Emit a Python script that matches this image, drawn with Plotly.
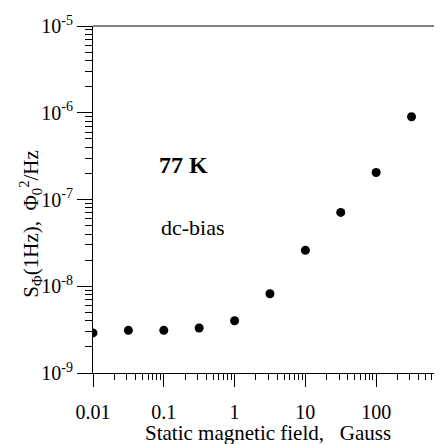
import plotly.graph_objects as go

# field (Gauss) and flux noise at 1 Hz (Phi0^2/Hz), 77 K, dc-bias
field = [0.01, 0.0316, 0.1, 0.316, 1, 3.16, 10, 31.6, 100, 316, 800]
noise = [2.9e-9, 3.1e-9, 3.1e-9, 3.3e-9, 4.0e-9, 8.2e-9, 2.6e-8, 7.1e-8, 2.05e-7, 9.0e-7, 2.3e-6]

x_ticks = [0.01, 0.1, 1, 10, 100]
x_labels = ["0.01", "0.1", "1", "10", "100"]
y_ticks = [1e-9, 1e-8, 1e-7, 1e-6, 1e-5]
y_labels = ["10<sup>-9</sup>", "10<sup>-8</sup>", "10<sup>-7</sup>", "10<sup>-6</sup>", "10<sup>-5</sup>"]

x_minor = [m * 10.0 ** k for k in range(-2, 3) for m in range(2, 10)]
y_minor = [m * 10.0 ** k for k in range(-9, -5) for m in range(2, 10)]

FONT = "Liberation Serif"

fig = go.Figure()
fig.add_trace(go.Scatter(
    x=field, y=noise, mode="markers",
    marker=dict(color="black", size=9),
    showlegend=False,
))

axis_style = dict(
    type="log", tickmode="array",
    tickwidth=1, tickcolor="black",
    showline=True, linecolor="black", linewidth=1, showgrid=False, zeroline=False,
    tickfont=dict(family=FONT, size=20, color="black"),
    automargin=False,
)
fig.update_xaxes(
    range=[-2, 2.93], tickvals=x_ticks, ticktext=x_labels,
    ticks="outside", ticklen=13, ticklabelstandoff=8,
    minor=dict(tickmode="array", tickvals=x_minor, ticks="outside", ticklen=6, tickcolor="black"),
    **axis_style,
)
fig.update_yaxes(
    range=[-9, -5], tickvals=y_ticks, ticktext=y_labels,
    ticks="outside", ticklen=15,
    minor=dict(tickmode="array", tickvals=y_minor, ticks="outside", ticklen=7, tickcolor="black"),
    **axis_style,
)

# top frame and partial right frame
fig.add_shape(type="line", xref="paper", yref="paper", x0=0, x1=1, y0=1, y1=1,
              line=dict(color="black", width=1))
fig.add_shape(type="line", xref="paper", yref="paper", x0=0.997, x1=0.997, y0=0.3, y1=1,
              line=dict(color="black", width=1))

text_pos = dict(xref="paper", yref="paper", xanchor="center", yanchor="middle", showarrow=False)
fig.add_annotation(text="<b>77 K</b>", x=0.258, y=0.6,
                   font=dict(family=FONT, size=24, color="black"), **text_pos)
fig.add_annotation(text="dc-bias", x=0.287, y=0.42,
                   font=dict(family=FONT, size=22, color="black"), **text_pos)
fig.add_annotation(text="Static magnetic field,   Gauss", x=0.5, y=-0.172,
                   font=dict(family=FONT, size=21, color="black"), **text_pos)
fig.add_annotation(text="S<sub>Φ</sub>(1Hz),  Φ<sub>0</sub><sup>2</sup>/Hz", x=-0.178, y=0.43,
                   textangle=-90, font=dict(family=FONT, size=21, color="black"), **text_pos)

# the page body adds an 8px offset, so the figure is shrunk to fit the window
fig.update_layout(
    width=434, height=436,
    margin=dict(l=85, r=0, t=18, b=71),
    plot_bgcolor="white", paper_bgcolor="white",
)

fig.write_html("out.html")
